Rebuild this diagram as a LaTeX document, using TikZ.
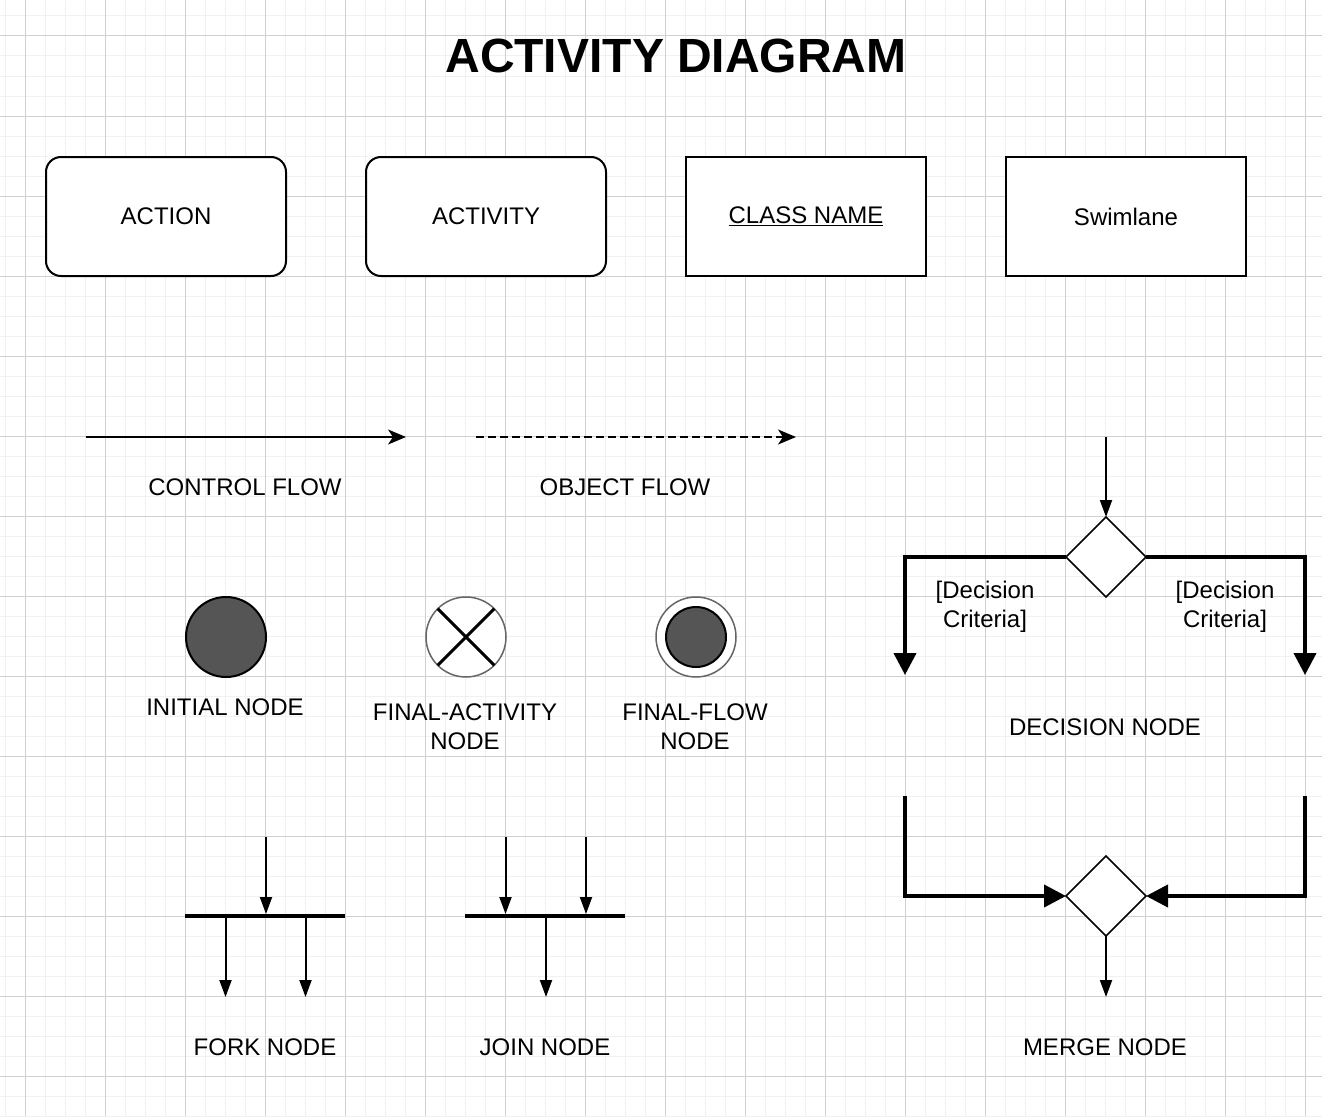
\documentclass[tikz,border=0pt]{standalone}
\usepackage{fontspec}
\setmainfont{Liberation Sans}
\usetikzlibrary{arrows.meta,shapes.geometric}
\definecolor{gridmajor}{HTML}{D0D0D0}
\definecolor{gridminor}{HTML}{F1F1F1}
\definecolor{darkfill}{HTML}{555555}
\definecolor{ringgray}{HTML}{666666}
\tikzset{
  minorline/.style={draw=gridminor, line width=1pt},
  majorline/.style={draw=gridmajor, line width=1pt},
  lbl/.style={font=\fontsize{24}{29}\selectfont, align=center, inner sep=0pt},
  actbox/.style={draw, line width=2pt, fill=white, minimum width=240pt, minimum height=119pt, inner sep=0pt, font=\fontsize{24}{29}\selectfont},
  blob/.style={circle, draw, line width=2pt, fill=darkfill, minimum size=80pt, inner sep=0pt, outer sep=0pt},
  ring/.style={circle, draw=ringgray, line width=1.5pt, fill=white, minimum size=80pt, inner sep=0pt, outer sep=0pt},
  diam/.style={diamond, draw, line width=1.5pt, fill=white, minimum width=80pt, minimum height=80pt, inner sep=0pt, outer sep=0pt},
  syncbar/.style={rectangle, fill=black, minimum width=160pt, minimum height=4pt, inner sep=0pt, outer sep=0pt},
  flowarrow/.style={line width=2pt, -{Stealth[length=18pt,width=15pt,inset=5pt]}},
  thinarrow/.style={line width=2pt, -{Triangle[length=17pt,width=12pt]}},
  thickarrow/.style={line width=4pt, -{Triangle[length=22pt,width=22pt]}},
}
\begin{document}
\begin{tikzpicture}[x=1pt,y=-1pt]
\useasboundingbox (0,0) rectangle (1322,1116);
\fill[white] (0,0) rectangle (1322,1116);
% grid
\foreach \x in {5,25,...,1322} \draw[minorline] (\x,0) -- (\x,1116);
\foreach \y in {16,36,...,1116} \draw[minorline] (0,\y) -- (1322,\y);
\foreach \x in {25,105,...,1322} \draw[majorline] (\x,0) -- (\x,1116);
\foreach \y in {36,116,...,1116} \draw[majorline] (0,\y) -- (1322,\y);

% title
\node[font=\fontsize{48}{56}\selectfont\bfseries, inner sep=0pt] (title) at (676,56) {ACTIVITY DIAGRAM};

% top boxes
\node[actbox, rounded corners=15pt] (action) at (166,216.5) {ACTION};
\node[actbox, rounded corners=15pt] (activity) at (486,216.5) {ACTIVITY};
\node[actbox] (classname) at (806,216.5) {\underline{CLASS NAME}};
\node[actbox] (swimlane) at (1126,216.5) {Swimlane};

% flows
\coordinate (cfs) at (86,437);
\coordinate (cfe) at (406,437);
\draw[flowarrow] (cfs) -- (cfe);
\node[lbl] (cflbl) at (245,487) {CONTROL FLOW};
\coordinate (ofs) at (476,437);
\coordinate (ofe) at (796,437);
\draw[flowarrow, dash pattern=on 8pt off 4pt] (ofs) -- (ofe);
\node[lbl] (oflbl) at (625,487) {OBJECT FLOW};

% initial node
\node[blob] (init) at (226,637) {};
\node[lbl] (initlbl) at (225,707) {INITIAL NODE};

% final activity node
\node[ring] (fa) at (466,637) {};
\draw[line width=3pt] (fa.north west) -- (fa.south east);
\draw[line width=3pt] (fa.north east) -- (fa.south west);
\node[lbl] (falbl) at (465,726.5) {FINAL-ACTIVITY\\NODE};

% final flow node
\node[ring] (ff) at (696,637) {};
\node[blob, minimum size=60pt] (ffin) at (ff.center) {};
\node[lbl] (fflbl) at (695,726.5) {FINAL-FLOW\\NODE};

% decision node
\node[diam] (dec) at (1106,557) {};
\coordinate (decin) at (1106,437);
\draw[thinarrow] (decin) -- (dec.north);
\coordinate (decl) at (905,675);
\coordinate (decr) at (1305,675);
\draw[thickarrow] (dec.west) -| (decl);
\draw[thickarrow] (dec.east) -| (decr);
\node[lbl] (critl) at (985,606.5) {[Decision\\Criteria]};
\node[lbl] (critr) at (1225,606.5) {[Decision\\Criteria]};
\node[lbl] (declbl) at (1105,727) {DECISION NODE};

% merge node
\node[diam] (mer) at (1106,896) {};
\coordinate (merl) at (905,796);
\coordinate (merr) at (1305,796);
\draw[thickarrow] (merl) |- (mer.west);
\draw[thickarrow] (merr) |- (mer.east);
\coordinate (merout) at (1106,997);
\draw[thinarrow] (mer.south) -- (merout);
\node[lbl] (merlbl) at (1105,1047) {MERGE NODE};

% fork node
\node[syncbar] (fork) at (265,916) {};
\coordinate (forkin) at (266,837);
\draw[thinarrow] (forkin) -- (forkin |- fork.north);
\coordinate (forko1) at (225.5,997);
\coordinate (forko2) at (305.5,997);
\draw[thinarrow] (forko1 |- fork.south) -- (forko1);
\draw[thinarrow] (forko2 |- fork.south) -- (forko2);
\node[lbl] (forklbl) at (265,1047) {FORK NODE};

% join node
\node[syncbar] (join) at (545,916) {};
\coordinate (joinin1) at (505.5,837);
\coordinate (joinin2) at (586,837);
\draw[thinarrow] (joinin1) -- (joinin1 |- join.north);
\draw[thinarrow] (joinin2) -- (joinin2 |- join.north);
\coordinate (joinout) at (546,997);
\draw[thinarrow] (joinout |- join.south) -- (joinout);
\node[lbl] (joinlbl) at (545,1047) {JOIN NODE};
\end{tikzpicture}
\end{document}
